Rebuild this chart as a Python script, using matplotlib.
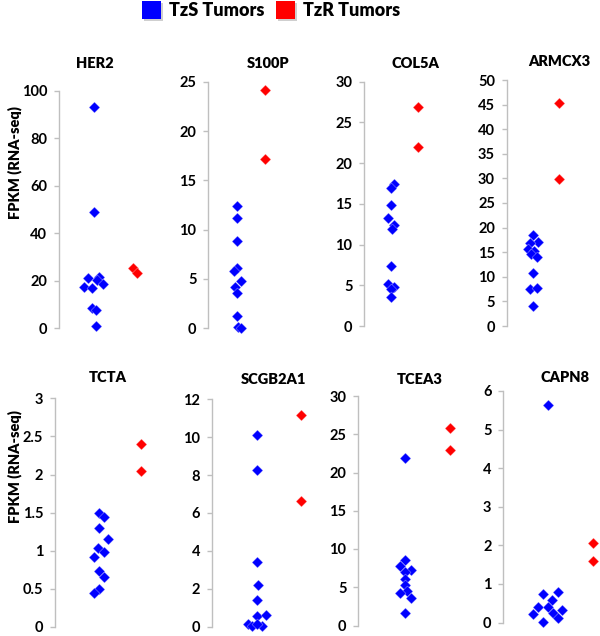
"""Scatter of FPKM per gene, TzS vs TzR tumors (8 small panels)."""

import matplotlib
matplotlib.use("Agg")
import matplotlib.pyplot as plt
from matplotlib.patches import Rectangle

plt.rcParams["font.family"] = ["Lato", "DejaVu Sans"]
plt.rcParams["font.weight"] = "bold"

W, H = 600, 636
BLUE, RED = "#0000ff", "#ff0000"
SPINE = "#bfbfbf"

genes = ["HER2", "S100P", "COL5A", "ARMCX3", "TCTA", "SCGB2A1", "TCEA3", "CAPN8"]
ymax = [100, 25, 30, 50, 3, 12, 30, 6]
ystep = [20, 5, 5, 5, 0.5, 2, 5, 1]

# values; *_jit is the horizontal scatter (category units)
her2_tzs = [93.3, 49.1, 21.0, 17.5, 16.8, 21.5, 20.1, 18.7, 8.4, 7.4, 0.7]
her2_jit = [0, 0, -0.14, -0.25, -0.04, 0.13, 0.07, 0.21, -0.06, 0.05, 0.05]
her2_tzr = [25.5, 23.1]
her2_rjit = [-0.05, 0.05]

s100p_tzs = [12.4, 11.2, 8.8, 6.1, 5.8, 4.8, 4.2, 3.6, 1.2, 0.1, 0.05]
s100p_jit = [0, 0, 0, 0.02, -0.08, 0.14, -0.06, 0, 0, 0.04, 0.14]
s100p_tzr = [24.2, 17.2]
s100p_rjit = [0, 0]

col5a_tzs = [17.4, 17.0, 14.8, 13.3, 12.4, 11.9, 7.4, 5.2, 4.8, 4.6, 3.6]
col5a_jit = [0.12, 0, 0, -0.1, 0.12, 0.02, 0, -0.12, 0.12, 0, 0]
col5a_tzr = [26.9, 22.0]
col5a_rjit = [0, 0]

armcx3_tzs = [18.5, 17.1, 16.9, 15.6, 15.2, 14.6, 14.0, 10.8, 7.5, 7.7, 4.1]
armcx3_jit = [0, 0.17, -0.13, -0.22, 0.04, -0.09, 0.13, 0, -0.13, 0.13, 0]
armcx3_tzr = [45.4, 29.8]
armcx3_rjit = [0, 0]

tcta_tzs = [1.49, 1.44, 1.30, 1.15, 1.04, 0.98, 0.92, 0.74, 0.66, 0.50, 0.45]
tcta_jit = [0, 0.11, 0, 0.2, -0.02, 0.11, -0.12, 0, 0.11, 0, -0.12]
tcta_tzr = [2.40, 2.04]
tcta_rjit = [0, 0]

scgb2a1_tzs = [10.1, 8.24, 3.41, 2.19, 1.41, 0.54, 0.63, 0.14, 0.02, 0.02, 0.14]
scgb2a1_jit = [0, 0, 0, 0.02, 0, 0, 0.21, -0.22, -0.11, 0.1, 0]
scgb2a1_tzr = [11.15, 6.63]
scgb2a1_rjit = [0, 0]

tcea3_tzs = [21.9, 8.54, 7.8, 7.28, 7.02, 6.07, 5.3, 4.5, 4.25, 3.56, 1.65]
tcea3_jit = [0, 0, -0.11, 0.13, 0, 0, 0, 0.04, -0.11, 0.13, 0]
tcea3_tzr = [25.8, 22.9]
tcea3_rjit = [0, 0]

capn8_tzs = [5.65, 0.73, 0.78, 0.58, 0.41, 0.41, 0.32, 0.22, 0.24, 0.02, 0.11]
capn8_jit = [0, -0.12, 0.21, 0.08, -0.22, 0.0, 0.30, -0.33, 0.12, -0.12, 0.21]
capn8_tzr = [2.06, 1.6]
capn8_rjit = [0, 0]

tzs = [her2_tzs, s100p_tzs, col5a_tzs, armcx3_tzs, tcta_tzs, scgb2a1_tzs, tcea3_tzs, capn8_tzs]
tzs_jit = [her2_jit, s100p_jit, col5a_jit, armcx3_jit, tcta_jit, scgb2a1_jit, tcea3_jit, capn8_jit]
tzr = [her2_tzr, s100p_tzr, col5a_tzr, armcx3_tzr, tcta_tzr, scgb2a1_tzr, tcea3_tzr, capn8_tzr]
tzr_jit = [her2_rjit, s100p_rjit, col5a_rjit, armcx3_rjit, tcta_rjit, scgb2a1_rjit, tcea3_rjit, capn8_rjit]

# layout in pixels: spine x, y of top tick, y of zero, x of TzS column, x of TzR column, title centre
LAYOUT = [
    (59, 91, 328, 94, 134.7, (95, 63)),
    (208.3, 81.7, 328.3, 236.7, 265, (268, 63)),
    (364.3, 81.7, 326, 391, 418.3, (415, 63)),
    (506.7, 80, 326, 533.3, 559, (559, 62)),
    (55, 398.3, 627, 99.3, 140.7, (108, 378)),
    (211.7, 399.3, 626.5, 257.3, 301, (273, 379)),
    (358.3, 396, 625.5, 405, 450, (420, 379)),
    (503.3, 391, 622.5, 548, 593.3, (565, 378)),
]
AX_W = 100


def fx(px):
    return px / W


def fy(py):
    return 1 - py / H


fig = plt.figure(figsize=(W / 100, H / 100), dpi=100, facecolor="white")

for i, gene in enumerate(genes):
    spine, ytop, yzero, bx, rx, (tx, ty) = LAYOUT[i]
    ax = fig.add_axes([fx(spine), fy(yzero), AX_W / W, (yzero - ytop) / H])
    s = rx - bx
    left = 1 - (bx - spine) / s
    ax.set_xlim(left, left + AX_W / s)
    ax.set_ylim(0, ymax[i])
    xs = [1 + j for j in tzs_jit[i]]
    ax.scatter(xs, tzs[i], marker="D", s=31, color=BLUE, edgecolors=(1, 1, 1, 0.5),
               linewidths=0.4, clip_on=False, zorder=3)
    xr = [2 + j for j in tzr_jit[i]]
    ax.scatter(xr, tzr[i], marker="D", s=31, color=RED, edgecolors=(1, 1, 1, 0.5),
               linewidths=0.4, clip_on=False, zorder=3)

    n = round(ymax[i] / ystep[i])
    ticks = [k * ystep[i] for k in range(n + 1)]
    ax.set_yticks(ticks)
    ax.set_yticklabels([f"{t:g}" for t in ticks])
    ax.set_xticks([])
    for sp in ("top", "right", "bottom"):
        ax.spines[sp].set_visible(False)
    ax.spines["left"].set_color(SPINE)
    ax.spines["left"].set_linewidth(1)
    ax.tick_params(axis="y", direction="out", length=3.5, width=1, color=SPINE,
                   labelsize=10.5, pad=5)
    ax.patch.set_alpha(0)
    fig.text(fx(tx), fy(ty), gene, ha="center", va="center", fontsize=10.5, fontweight="heavy")

for yc in (163, 467):
    fig.text(fx(15), fy(yc), "FPKM (RNA-seq)", rotation=90, ha="center", va="center",
             fontsize=10.5, fontweight="heavy")

# legend with shadowed squares
for x0, color, label in [(142, BLUE, "TzS Tumors"), (276, RED, "TzR Tumors")]:
    fig.add_artist(Rectangle((fx(x0 + 1.5), fy(20.5)), 19 / W, 18 / H, transform=fig.transFigure,
                             facecolor="#b0b0b0", edgecolor="none", alpha=0.6))
    fig.add_artist(Rectangle((fx(x0), fy(19)), 19 / W, 18 / H, transform=fig.transFigure,
                             facecolor=color, edgecolor="none"))
    fig.text(fx(x0 + 27), fy(10), label, ha="left", va="center", fontsize=13,
             fontweight="heavy")

fig.savefig("out.png", dpi=100, facecolor="white")
